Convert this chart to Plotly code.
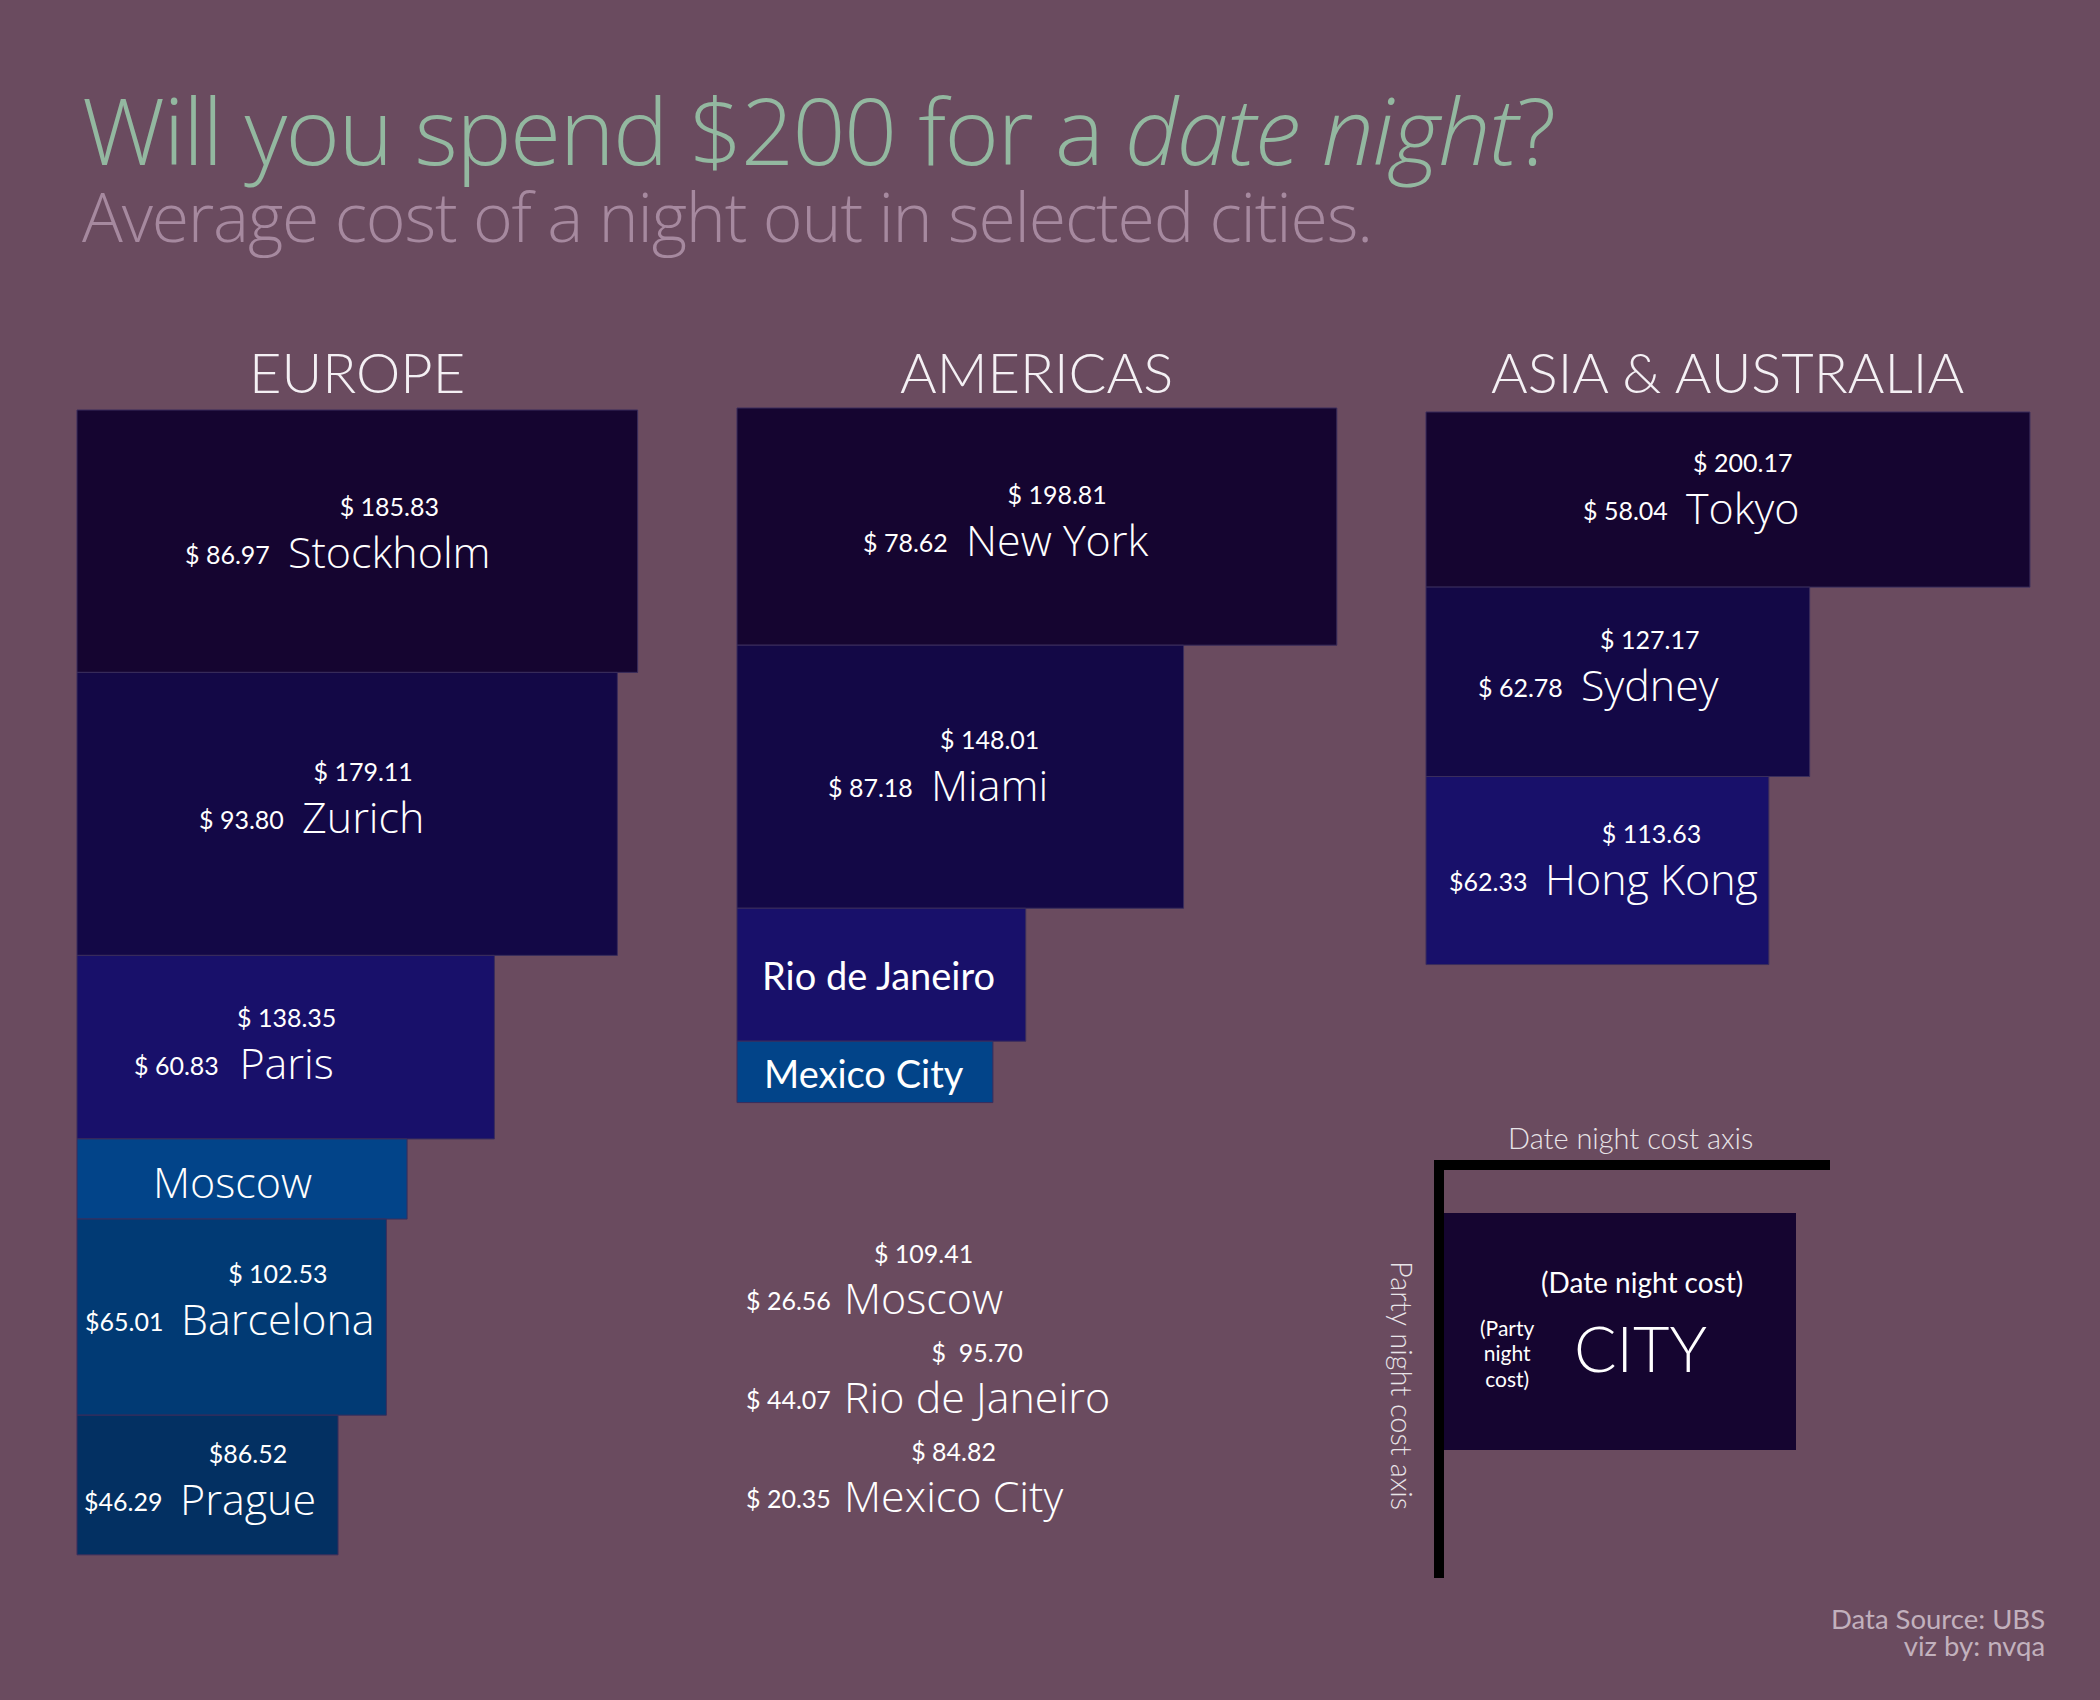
import plotly.graph_objects as go

W, H = 2100, 1700
K = 3.017  # pixels per dollar (same scale on both axes)

# ---------------- data ----------------
europe_cities = ["Stockholm", "Zurich", "Paris", "Moscow", "Barcelona", "Prague"]
europe_date = [185.83, 179.11, 138.35, 109.41, 102.53, 86.52]
europe_party = [86.97, 93.80, 60.83, 26.56, 65.01, 46.29]

americas_cities = ["New York", "Miami", "Rio de Janeiro", "Mexico City"]
americas_date = [198.81, 148.01, 95.70, 84.82]
americas_party = [78.62, 87.18, 44.07, 20.35]

asia_cities = ["Tokyo", "Sydney", "Hong Kong"]
asia_date = [200.17, 127.17, 113.63]
asia_party = [58.04, 62.78, 62.33]

# cities whose value labels are written without a space after "$"
nospace_date = {"Prague"}
nospace_party = {"Barcelona", "Prague", "Hong Kong"}

# ---------------- styling / layout ----------------
BG = "#6a4b5f"
PALETTE = ["#150530", "#130846", "#18106a", "#024489", "#013a74", "#033062"]
WHITE = "#ffffff"
CITY_FONT = "Open Sans"
NUM_FONT = "Lato"
CITY_W = 300

panels = [
    dict(name="EUROPE", cities=europe_cities, date=europe_date, party=europe_party,
         left=77, top=410,
         lx=[0.373, 0.412, 0.379, 0.47, 0.329, 0.387],
         ly=[0.549, 0.517, 0.599, 0.53, 0.52, 0.615]),
    dict(name="AMERICAS", cities=americas_cities, date=americas_date, party=americas_party,
         left=737, top=408,
         lx=[0.378, 0.429, 0.49, 0.497],
         ly=[0.565, 0.54, 0.505, 0.52]),
    dict(name="ASIA &amp; AUSTRALIA", cities=asia_cities, date=asia_date, party=asia_party,
         left=1426, top=412,
         lx=[0.427, 0.399, 0.341],
         ly=[0.56, 0.53, 0.557]),
]
SMALL = 45  # party cost below which values are listed separately


def money(v, nospace=False):
    return ("$" if nospace else "$ ") + f"{v:.2f}"


def py2paper(py):
    return 1 - py / H


def stacked(date_txt, city, city_size=43):
    return (f"<span style='font-family:{NUM_FONT};font-size:25px;font-weight:400'>{date_txt}</span><br>"
            f"<span style='font-size:{city_size}px;font-weight:{CITY_W}'>{city}</span>")


fig = go.Figure()
annotations = []
small_items = []

for i, p in enumerate(panels):
    sfx = "" if i == 0 else str(i + 1)
    xa, ya = "x" + sfx, "y" + sfx
    centers, tops = [], []
    acc = 0.0
    for v in p["party"]:
        tops.append(acc)
        centers.append(acc + v / 2)
        acc += v
    fig.add_trace(go.Bar(
        orientation="h", x=p["date"], y=centers, width=p["party"], base=0,
        marker=dict(color=PALETTE[:len(p["date"])], line=dict(color="#3a2d5c", width=1)),
        xaxis=xa, yaxis=ya, hoverinfo="skip", showlegend=False,
    ))
    lay_x = dict(domain=[0, 1], range=[-p["left"] / K, (W - p["left"]) / K], visible=False,
                 fixedrange=True)
    lay_y = dict(domain=[0, 1], range=[(H - p["top"]) / K, -p["top"] / K], visible=False,
                 fixedrange=True)
    if i > 0:
        lay_x.update(overlaying="x", anchor=ya)
        lay_y.update(overlaying="y", anchor=xa)
    fig.update_layout(**{"xaxis" + sfx: lay_x, "yaxis" + sfx: lay_y})

    annotations.append(dict(
        x=max(p["date"]) / 2, xref=xa, y=py2paper(371), yref="paper",
        text=p["name"], showarrow=False, xanchor="center", yanchor="middle",
        font=dict(family=NUM_FONT, size=56, color="#f4f0f4", weight=300)))

    for j, city in enumerate(p["cities"]):
        d, pv = p["date"][j], p["party"][j]
        yc = tops[j] + p["ly"][j] * pv
        if pv < SMALL:
            fnt = dict(family=CITY_FONT, size=43, color=WHITE, weight=CITY_W) if i == 0 else \
                dict(family=NUM_FONT, size=38, color=WHITE)
            annotations.append(dict(
                x=p["lx"][j] * d, xref=xa, y=yc, yref=ya, text=city, showarrow=False,
                xanchor="center", yanchor="middle", font=fnt))
            small_items.append((city, d, pv))
            continue
        xl = p["lx"][j] * d
        annotations.append(dict(
            x=xl, xref=xa, y=yc + 29 / K, yref=ya,
            text=stacked(money(d, city in nospace_date), city),
            showarrow=False, xanchor="left", yanchor="bottom", align="center",
            font=dict(family=CITY_FONT, size=40, color=WHITE)))
        annotations.append(dict(
            x=xl - 14 / K, xref=xa, y=yc, yref=ya,
            text=money(pv, city in nospace_party), showarrow=False,
            xanchor="right", yanchor="middle",
            font=dict(family=NUM_FONT, size=25, color=WHITE)))

# values of the small boxes, listed under the Americas column
small_items.sort(key=lambda t: -t[1])
for n, (city, d, pv) in enumerate(small_items):
    yc = 1300 + n * 99
    dtxt = money(d) if city != "Rio de Janeiro" else "$\u00a0 " + f"{d:.2f}"
    annotations.append(dict(
        x=842 / W, xref="paper", y=py2paper(yc + 29), yref="paper",
        text=stacked(dtxt, city),
        showarrow=False, xanchor="left", yanchor="bottom", align="center",
        font=dict(family=CITY_FONT, size=39, color=WHITE)))
    annotations.append(dict(
        x=833 / W, xref="paper", y=py2paper(yc), yref="paper", text=money(pv),
        showarrow=False, xanchor="right", yanchor="middle",
        font=dict(family=NUM_FONT, size=25, color=WHITE)))

# title + subtitle (one block, two lines)
annotations.append(dict(
    x=80 / W, xref="paper", y=py2paper(64), yref="paper", showarrow=False,
    xanchor="left", yanchor="top", align="left",
    text=("<span style='font-size:93px;letter-spacing:-1.55px;color:#93b8a0'>"
          "Will you spend $200 for a <i>date night</i>?</span><br>"
          "<span style='font-size:68px;letter-spacing:-1.2px;color:#a6899f'>"
          "Average cost of a night out in selected cities.</span>"),
    font=dict(family="Open Sans", size=59, color="#93b8a0", weight=300)))

# explanatory key (bottom right)
shapes = [
    dict(type="rect", xref="paper", yref="paper", x0=1444 / W, x1=1796 / W,
         y0=py2paper(1450), y1=py2paper(1213), fillcolor=PALETTE[0], line=dict(width=0)),
    dict(type="rect", xref="paper", yref="paper", x0=1434 / W, x1=1830 / W,
         y0=py2paper(1170), y1=py2paper(1160), fillcolor="#000000", line=dict(width=0)),
    dict(type="rect", xref="paper", yref="paper", x0=1434 / W, x1=1444 / W,
         y0=py2paper(1578), y1=py2paper(1160), fillcolor="#000000", line=dict(width=0)),
]
KEY_FONT = dict(family=NUM_FONT, size=29, color="#e8e4e8", weight=300)
annotations += [
    dict(x=1630 / W, xref="paper", y=py2paper(1137), yref="paper", text="Date night cost axis",
         showarrow=False, xanchor="center", yanchor="middle", font=KEY_FONT),
    dict(x=1403 / W, xref="paper", y=py2paper(1385), yref="paper", text="Party night cost axis",
         showarrow=False, xanchor="center", yanchor="middle", textangle=90, font=KEY_FONT),
    dict(x=1642 / W, xref="paper", y=py2paper(1282), yref="paper", text="(Date night cost)",
         showarrow=False, xanchor="center", yanchor="middle",
         font=dict(family=NUM_FONT, size=28, color=WHITE)),
    dict(x=1640 / W, xref="paper", y=py2paper(1347), yref="paper", text="CITY",
         showarrow=False, xanchor="center", yanchor="middle",
         font=dict(family=NUM_FONT, size=63, color=WHITE, weight=300)),
    dict(x=1507 / W, xref="paper", y=py2paper(1353), yref="paper",
         text="<span style='font-size:21px'>(Party<br>night<br>cost)</span>",
         showarrow=False, xanchor="center", yanchor="middle", align="center",
         font=dict(family=NUM_FONT, size=19.5, color=WHITE)),
]

# footer
annotations.append(dict(
    x=2047 / W, xref="paper", y=py2paper(1632), yref="paper",
    text="<span style='font-size:27.5px'>Data Source: UBS<br>viz by: nvqa</span>",
    showarrow=False, xanchor="right", yanchor="middle", align="right",
    font=dict(family=NUM_FONT, size=20.8, color="#c2b1bd")))

fig.update_layout(
    width=W, height=H, margin=dict(l=0, r=0, t=0, b=0),
    paper_bgcolor=BG, plot_bgcolor=BG, barmode="overlay",
    annotations=annotations, shapes=shapes, showlegend=False,
)
fig.write_html("out.html", config={"displayModeBar": False})
